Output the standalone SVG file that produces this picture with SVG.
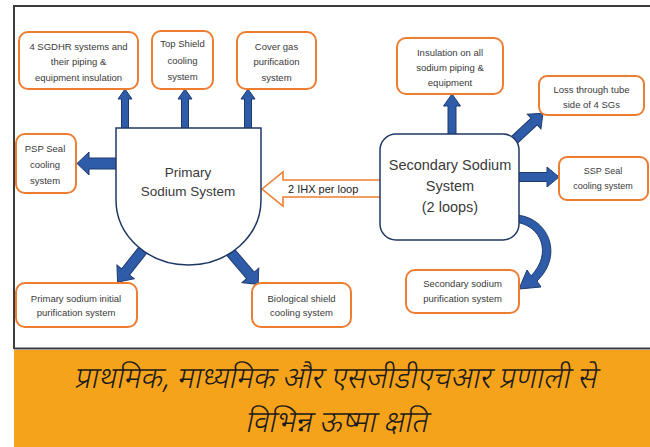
<svg xmlns="http://www.w3.org/2000/svg" width="650" height="447" viewBox="0 0 650 447">
<defs>
<style>
.box{fill:#fff;stroke:#ED7D31;stroke-width:2}
.t{font-family:"Liberation Sans",Arial,sans-serif;font-size:9.5px;fill:#3a3a3a;text-anchor:middle}
.big{font-family:"Liberation Sans",Arial,sans-serif;font-size:13.5px;fill:#3a3a3a;text-anchor:middle}
.arr{fill:#2E5CA8;stroke:#1F3A70;stroke-width:1;stroke-linejoin:miter}
.navy{fill:#fff;stroke:#1F3864;stroke-width:1.5}
.hi{font-family:"Noto Sans Devanagari","Lohit Devanagari","Mukta","Noto Sans",sans-serif;font-size:30px;font-weight:300;fill:#1a1a1a;text-anchor:middle}
</style>
</defs>
<rect width="650" height="447" fill="#fff"/>
<g id="frame">
<path d="M14,6 H650 M14,5 V349 M14,348.5 H650" fill="none" stroke="#3c3c3c" stroke-width="2"/>
<rect x="14" y="350" width="636" height="97" fill="#F6A31C"/>
</g>
<g id="connectors">
<polygon class="arr" points="121.5,130 121.5,99 118,99 125,89 132,99 128.5,99 128.5,130"/>
<polygon class="arr" points="181.5,130 181.5,99 178,99 185,89 192,99 188.5,99 188.5,130"/>
<polygon class="arr" points="244.5,130 244.5,99 241,99 248,89 255,99 251.5,99 251.5,130"/>
<polygon class="arr" points="120,158 89,158 89,152 77,163.5 89,175 89,169 120,169"/>
<polygon class="arr" transform="translate(146,246) rotate(128.2)" points="0,-5 33,-5 33,-11 46,0 33,11 33,5 0,5"/>
<polygon class="arr" transform="translate(227,248) rotate(49.5)" points="0,-5 36,-5 36,-11 48,0 36,11 36,5 0,5"/>
<polygon class="arr" points="448,138 448,106 443.5,106 452,94 460.5,106 456,106 456,138"/>
<polygon class="arr" transform="translate(510,144) rotate(-43)" points="0,-4.5 33,-4.5 33,-10 45,0 33,10 33,4.5 0,4.5"/>
<polygon class="arr" points="515,172.5 547,172.5 547,167 559,177 547,187 547,181.5 515,181.5"/>
<path class="arr" d="M515,215 C547,216 565,254 537,281 L541,287 L519,289 L527,270 L531,276 C553,253 541,225 515,222 Z"/>
<polygon points="262,189 283,172 283,180 384,180 384,197 283,197 283,206" fill="#fff" stroke="#ED7D31" stroke-width="1.6"/>
<text x="288" y="193" style="font-family:'Liberation Sans',Arial,sans-serif;font-size:11px;fill:#222">2 IHX per loop</text>
</g>
<g id="primary">
<path class="navy" d="M116,128 H261 V200 A72.5,65 0 0 1 116,200 Z"/>
<text class="big" x="188" y="177">Primary</text>
<text class="big" x="188" y="196">Sodium System</text>
</g>
<g id="secondary">
<rect class="navy" x="380" y="134" width="139" height="106" rx="16"/>
<text class="big" x="450" y="170" style="font-size:14.5px">Secondary Sodium</text>
<text class="big" x="450" y="191" style="font-size:14.5px">System</text>
<text class="big" x="450" y="212" style="font-size:14.5px">(2 loops)</text>
</g>
<g id="sgdhr">
<rect class="box" x="19" y="32" width="119" height="57" rx="9"/>
<text class="t" x="78.5" y="49.5">4 SGDHR systems and</text>
<text class="t" x="78.5" y="65">their piping &amp;</text>
<text class="t" x="78.5" y="80.5">equipment  insulation</text>
</g>
<g id="topshield">
<rect class="box" x="152" y="31" width="61" height="58" rx="9"/>
<text class="t" x="182.5" y="46.5">Top Shield</text>
<text class="t" x="182.5" y="64">cooling</text>
<text class="t" x="182.5" y="79.5">system</text>
</g>
<g id="covergas">
<rect class="box" x="237" y="32" width="79" height="57" rx="9"/>
<text class="t" x="276.5" y="49.5">Cover gas</text>
<text class="t" x="276.5" y="65">purification</text>
<text class="t" x="276.5" y="80.5">system</text>
</g>
<g id="insulation">
<rect class="box" x="397" y="38" width="106" height="56" rx="9"/>
<text class="t" x="450" y="55.5">Insulation on all</text>
<text class="t" x="450" y="70.5">sodium piping &amp;</text>
<text class="t" x="450" y="85.5">equipment</text>
</g>
<g id="loss">
<rect class="box" x="539" y="76" width="105" height="39" rx="8"/>
<text class="t" x="591.5" y="92.5">Loss through tube</text>
<text class="t" x="591.5" y="107.5">side of 4 SGs</text>
</g>
<g id="psp">
<rect class="box" x="16" y="134" width="60" height="59" rx="9"/>
<text class="t" x="45" y="151.5">PSP Seal</text>
<text class="t" x="45" y="167.5">cooling</text>
<text class="t" x="45" y="183.5">system</text>
</g>
<g id="ssp">
<rect class="box" x="559" y="157" width="89" height="43" rx="8"/>
<text class="t" x="603" y="174" style="font-size:9px">SSP Seal</text>
<text class="t" x="603" y="188.5" style="font-size:9px">cooling system</text>
</g>
<g id="psi">
<rect class="box" x="16" y="283" width="121" height="44" rx="9"/>
<text class="t" x="76" y="301.5">Primary sodium initial</text>
<text class="t" x="76" y="316">purification system</text>
</g>
<g id="bio">
<rect class="box" x="252" y="283" width="99" height="44" rx="9"/>
<text class="t" x="301.5" y="301.5">Biological shield</text>
<text class="t" x="301.5" y="316">cooling system</text>
</g>
<g id="ssps">
<rect class="box" x="406" y="270" width="113" height="43" rx="9"/>
<text class="t" x="462.5" y="286.5">Secondary sodium</text>
<text class="t" x="462.5" y="302">purification system</text>
</g>
<g id="caption">
<text class="hi" transform="translate(335,388) skewX(-12)" x="0" y="0">प्राथमिक, माध्यमिक और एसजीडीएचआर प्रणाली से</text>
<text class="hi" transform="translate(336,432) skewX(-12)" x="0" y="0">विभिन्न ऊष्मा क्षति</text>
</g>
</svg>
